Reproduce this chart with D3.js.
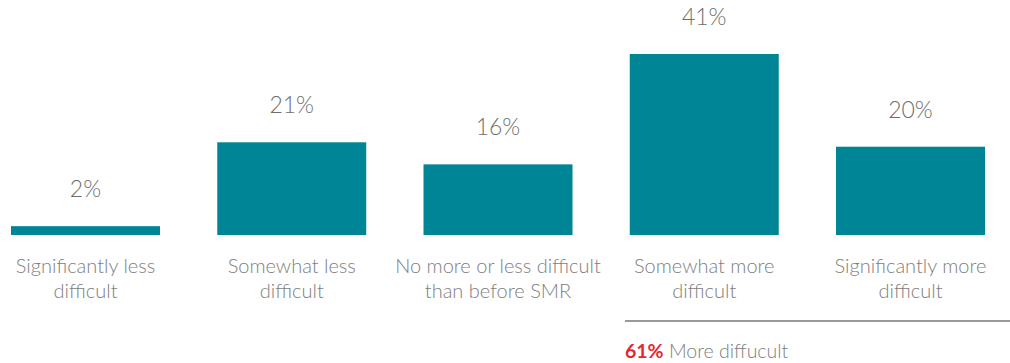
<!DOCTYPE html>
<html>
<head>
<meta charset="utf-8">
<script src="https://cdn.jsdelivr.net/npm/d3@7"></script>
<style>
  html, body { margin: 0; padding: 0; background: #fff; }
  svg { display: block; font-family: "Source Sans Pro", Lato, "Open Sans", sans-serif; }
</style>
</head>
<body>
<svg id="chart" width="1010" height="363"></svg>
<script>
// Survey responses: how difficult things have become since SMR
const categories = [
  ["Significantly less", "difficult"],
  ["Somewhat less", "difficult"],
  ["No more or less difficult", "than before SMR"],
  ["Somewhat more", "difficult"],
  ["Significantly more", "difficult"]
];
const values = [2, 21, 16, 41, 20];
const valueLabels = ["2%", "21%", "16%", "41%", "20%"];
const summaryValue = "61%";
const summaryText = "More diffucult";

const svg = d3.select("#chart");
const baseline = 235;

const x = d3.scaleBand()
  .domain(d3.range(values.length))
  .range([11, 985])
  .paddingInner(0.2776)
  .paddingOuter(0);

const y = d3.scaleLinear()
  .domain([0, 41])
  .range([baseline, 54]);

// bars
svg.selectAll("rect.bar")
  .data(values)
  .join("rect")
  .attr("class", "bar")
  .attr("x", (d, i) => x(i))
  .attr("y", d => y(d))
  .attr("width", x.bandwidth())
  .attr("height", d => baseline - y(d))
  .attr("fill", "#008597");

// value labels above bars
svg.selectAll("text.value")
  .data(values)
  .join("text")
  .attr("class", "value")
  .attr("x", (d, i) => x(i) + x.bandwidth() / 2)
  .attr("y", d => y(d) - 29)
  .attr("text-anchor", "middle")
  .attr("font-size", 23)
  .attr("font-weight", 300)
  .attr("fill", "#6e6e6e")
  .text((d, i) => valueLabels[i]);

// category labels below bars (two lines each)
const cat = svg.selectAll("text.cat")
  .data(categories)
  .join("text")
  .attr("class", "cat")
  .attr("x", (d, i) => x(i) + x.bandwidth() / 2)
  .attr("y", 273)
  .attr("text-anchor", "middle")
  .attr("font-size", 20)
  .attr("font-weight", 300)
  .attr("fill", "#7e7e7e");
cat.selectAll("tspan")
  .data(d => d)
  .join("tspan")
  .attr("x", function () { return d3.select(this.parentNode).attr("x"); })
  .attr("dy", (d, i) => i === 0 ? 0 : 25)
  .text(d => d);

// bracket line grouping the "more difficult" answers
svg.append("line")
  .attr("x1", 625)
  .attr("x2", 1010)
  .attr("y1", 321)
  .attr("y2", 321)
  .attr("stroke", "#999")
  .attr("stroke-width", 2);

const summary = svg.append("text")
  .attr("x", 625)
  .attr("y", 358)
  .attr("font-size", 19.5);
summary.append("tspan")
  .attr("font-weight", 700)
  .attr("fill", "#e8262f")
  .text(summaryValue);
summary.append("tspan")
  .attr("font-weight", 300)
  .attr("fill", "#7e7e7e")
  .text(" " + summaryText);
</script>
</body>
</html>
